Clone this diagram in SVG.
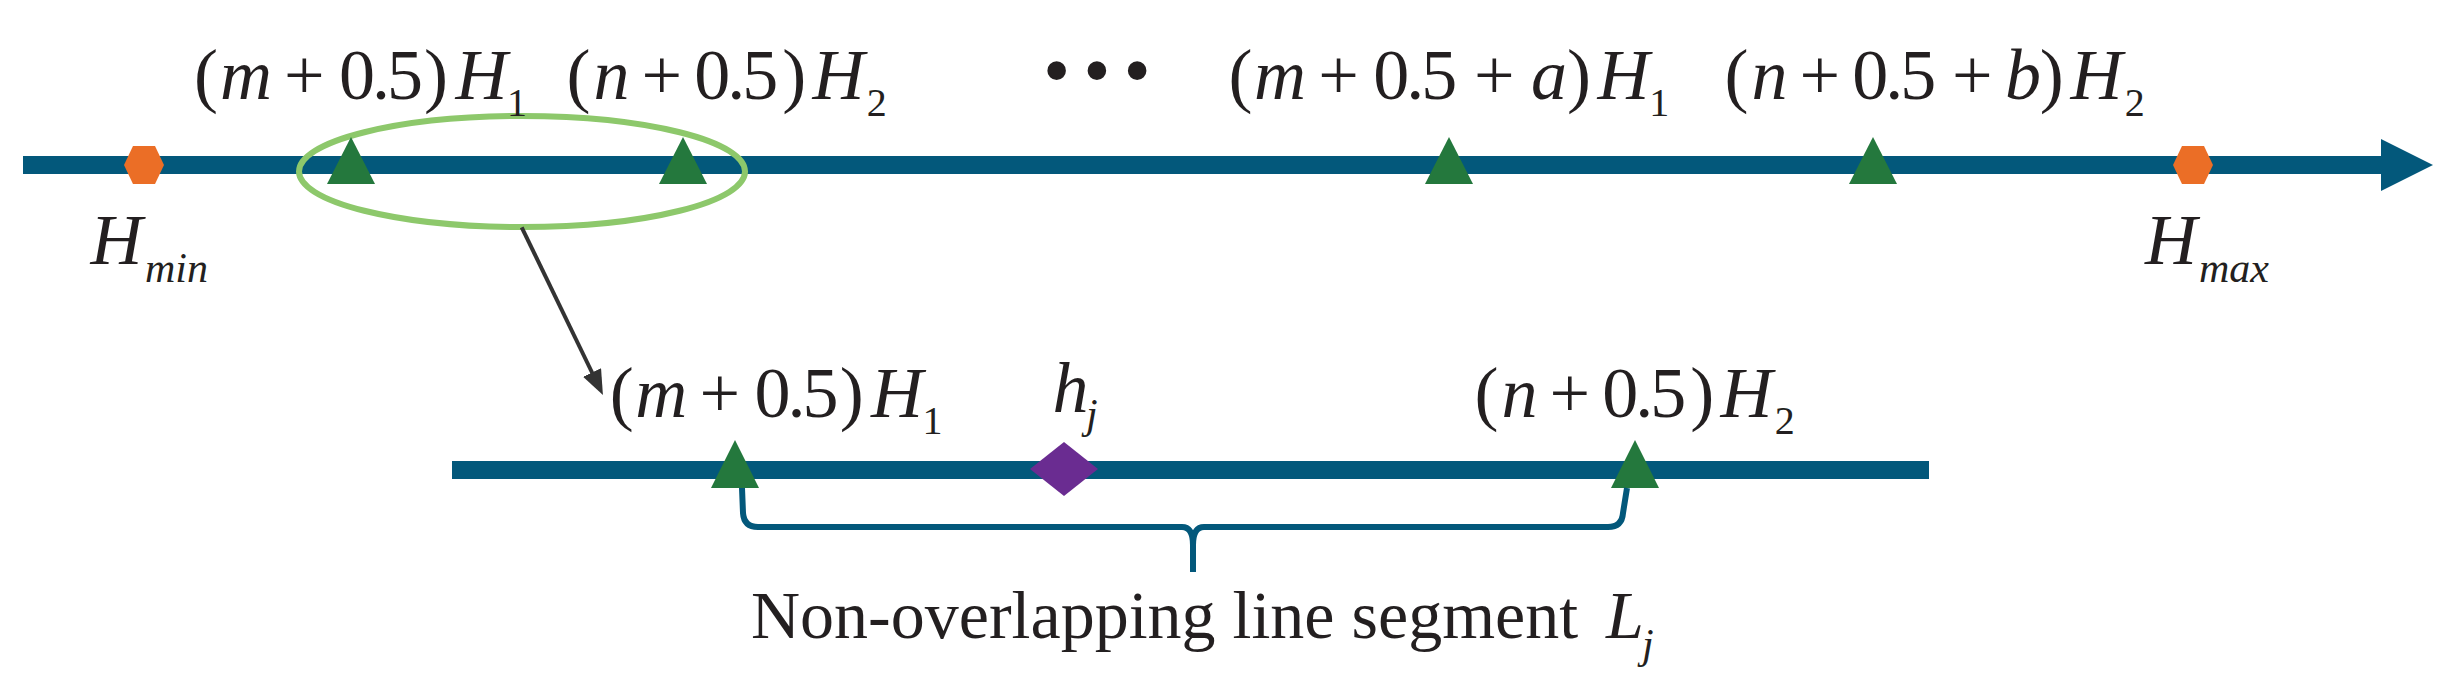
<svg xmlns="http://www.w3.org/2000/svg" width="2449" height="693" viewBox="0 0 2449 693">
<style>
.t{font-family:"Liberation Serif","Times New Roman",serif;fill:#231f20;font-size:72px}
.i{font-style:italic}
.s{font-size:40px}
.ss{font-size:42px}
.d{letter-spacing:-3px}
.axis{stroke:#03587b;stroke-width:18;fill:none}
.tri{fill:#24783d}
.hex{fill:#eb6e26}
.brace{stroke:#03587b;stroke-width:6;fill:none;stroke-linejoin:round}
.arrow{stroke:#333333;stroke-width:4;fill:none}
</style>
<defs>
<marker id="ah" markerUnits="userSpaceOnUse" viewBox="0 0 25 20" refX="10" refY="10" markerWidth="25" markerHeight="20" orient="auto">
<path d="M0,0 L25,10 L0,20 Z" fill="#333333"/>
</marker>
</defs>
<rect width="2449" height="693" fill="#ffffff"/>
<g id="main-axis">
<line class="axis" x1="23" y1="165" x2="2385" y2="165"/>
<polygon points="2381,139 2433,165 2381,191" fill="#03587b"/>
</g>
<g id="zoom-axis">
<line class="axis" x1="452" y1="470" x2="1929" y2="470"/>
</g>
<g id="selection-ellipse">
<ellipse cx="522" cy="171.5" rx="223" ry="55.5" fill="none" stroke="#8dc86b" stroke-width="6"/>
</g>
<g id="hmin">
<polygon class="hex" points="133,146 155,146 164,165 155,184 133,184 124,165"/>
<text class="t"><tspan class="i" x="90.5" y="264">H</tspan><tspan class="i ss" x="145" y="282">min</tspan></text>
</g>
<g id="hmax">
<polygon class="hex" points="2182,146 2204,146 2213,165 2204,184 2182,184 2173,165"/>
<text class="t"><tspan class="i" x="2145" y="264">H</tspan><tspan class="i ss" x="2199" y="282">max</tspan></text>
</g>
<g id="p-m">
<polygon class="tri" points="351,137 327,184 375,184"/>
<text class="t" y="99"><tspan x="194">(</tspan><tspan class="i" x="220">m</tspan><tspan x="284">+</tspan><tspan class="d" x="339">0.5</tspan><tspan x="424">)</tspan><tspan class="i" x="455.5">H</tspan><tspan class="s" x="507" y="116">1</tspan></text>
</g>
<g id="p-n">
<polygon class="tri" points="683,137 659,184 707,184"/>
<text class="t" y="99"><tspan x="566.5">(</tspan><tspan class="i" x="593.5">n</tspan><tspan x="641.5">+</tspan><tspan class="d" x="694.3">0.5</tspan><tspan x="782.3">)</tspan><tspan class="i" x="812.5">H</tspan><tspan class="s" x="866.7" y="116">2</tspan></text>
</g>
<g id="dots">
<text class="t" x="1043" y="97" style="font-size:78px;letter-spacing:13px">•••</text>
</g>
<g id="p-ma">
<polygon class="tri" points="1449,137 1425,184 1473,184"/>
<text class="t" y="99"><tspan x="1228.5">(</tspan><tspan class="i" x="1254">m</tspan><tspan x="1318.2">+</tspan><tspan class="d" x="1373.2">0.5</tspan><tspan x="1474">+</tspan><tspan class="i" x="1531">a</tspan><tspan x="1567">)</tspan><tspan class="i" x="1597.5">H</tspan><tspan class="s" x="1649.3" y="116">1</tspan></text>
</g>
<g id="p-nb">
<polygon class="tri" points="1873,137 1849,184 1897,184"/>
<text class="t" y="99"><tspan x="1724.5">(</tspan><tspan class="i" x="1751.5">n</tspan><tspan x="1799.5">+</tspan><tspan class="d" x="1852.3">0.5</tspan><tspan x="1952">+</tspan><tspan class="i" x="2005">b</tspan><tspan x="2039.8">)</tspan><tspan class="i" x="2070.5">H</tspan><tspan class="s" x="2124.7" y="116">2</tspan></text>
</g>
<g id="z-m">
<polygon class="tri" points="735,440 711,488 759,488"/>
<text class="t" y="417"><tspan x="609.8">(</tspan><tspan class="i" x="635.3">m</tspan><tspan x="699.5">+</tspan><tspan class="d" x="754.5">0.5</tspan><tspan x="839.8">)</tspan><tspan class="i" x="871">H</tspan><tspan class="s" x="922.5" y="434">1</tspan></text>
</g>
<g id="z-n">
<polygon class="tri" points="1635,440 1611,488 1659,488"/>
<text class="t" y="417"><tspan x="1474.5">(</tspan><tspan class="i" x="1501.5">n</tspan><tspan x="1549.5">+</tspan><tspan class="d" x="1602.3">0.5</tspan><tspan x="1690.3">)</tspan><tspan class="i" x="1720.5">H</tspan><tspan class="s" x="1774.7" y="434">2</tspan></text>
</g>
<g id="hj">
<polygon points="1064,442 1098,469 1064,496 1030,469" fill="#6a2c91"/>
<text class="t"><tspan class="i" x="1052.6" y="412">h</tspan><tspan class="i ss" x="1086" y="428">j</tspan></text>
</g>
<g id="segment-label">
<text class="t" style="font-size:68px"><tspan x="751" y="638">Non-overlapping line segment</tspan><tspan class="i" x="1606" y="638">L</tspan><tspan class="i ss" x="1642" y="658">j</tspan></text>
</g>
<g id="connectors">
<line class="arrow" x1="521.7" y1="227.3" x2="596.4" y2="381.5" marker-end="url(#ah)"/>
<path class="brace" d="M742,488 L743,513 Q744,527 758,527 L1182,527 Q1193,527 1193,545 L1193,572 M1193,545 Q1193,527 1204,527 L1608,527 Q1622,527 1623,513 L1627,488"/>
</g>
</svg>
